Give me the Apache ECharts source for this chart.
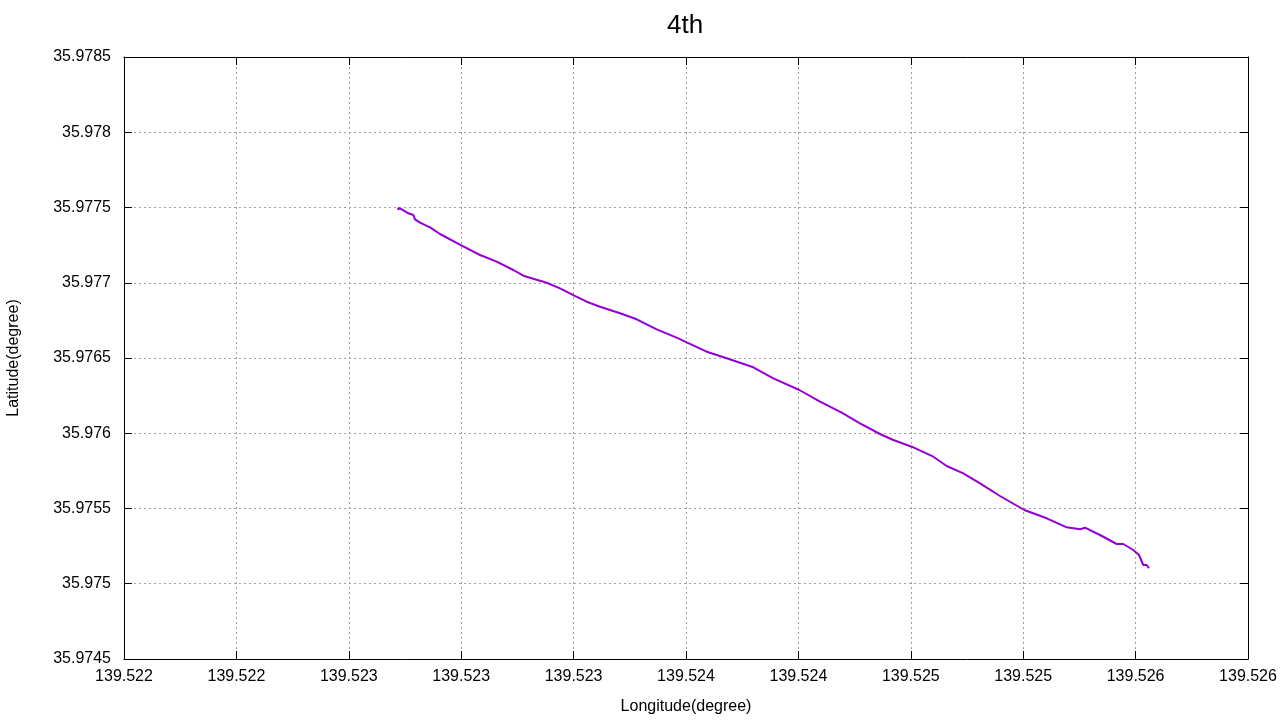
<!DOCTYPE html>
<html>
<head>
<meta charset="utf-8">
<script src="https://cdn.jsdelivr.net/npm/echarts@6/dist/echarts.min.js"></script>
<style>html,body{margin:0;padding:0;background:#fff}#c{width:1280px;height:720px}</style>
</head>
<body>
<div id="c"></div>
<script>
const lon = [139.5229762,139.5229762,139.5229883,139.5230117,139.5230295,139.5230356,139.5230534,139.5230890,139.5231245,139.5232018,139.5232669,139.5233263,139.5233854,139.5234210,139.5235043,139.5235516,139.5236025,139.5236466,139.5236940,139.5237651,139.5238245,139.5238957,139.5239726,139.5240025,139.5240737,139.5241448,139.5242395,139.5243107,139.5244032,139.5244769,139.5245541,139.5246192,139.5246904,139.5247377,139.5248032,139.5248801,139.5249277,139.5249868,139.5250463,139.5251174,139.5252039,139.5252836,139.5253548,139.5254021,139.5254199,139.5254733,139.5255327,139.5255562,139.5255918,139.5256120,139.5256273,139.5256394,139.5256477];
const lat = [35.9774834,35.9774967,35.9774880,35.9774614,35.9774502,35.9774216,35.9773990,35.9773684,35.9773239,35.9772462,35.9771844,35.9771399,35.9770847,35.9770468,35.9770003,35.9769631,35.9769140,35.9768741,35.9768409,35.9767970,35.9767571,35.9766907,35.9766309,35.9766043,35.9765419,35.9764980,35.9764382,35.9763651,35.9762874,35.9762096,35.9761366,35.9760661,35.9759950,35.9759551,35.9759106,35.9758442,35.9757824,35.9757339,35.9756674,35.9755831,35.9754900,35.9754349,35.9753751,35.9753618,35.9753724,35.9753239,35.9752641,35.9752641,35.9752243,35.9751910,35.9751246,35.9751246,35.9751027];
const xTickLabels = ['139.522','139.522','139.523','139.523','139.523','139.524','139.524','139.525','139.525','139.526','139.526'];
const yTickLabels = ['35.9745','35.975','35.9755','35.976','35.9765','35.977','35.9775','35.978','35.9785'];
const xMin = 139.5220, xMax = 139.5260, xStep = 0.0004;
const yMin = 35.9745, yMax = 35.9785, yStep = 0.0005;

const chart = echarts.init(document.getElementById('c'));
const font = 'Liberation Sans, Arial, sans-serif';
const splitLine = {show:true, lineStyle:{color:'#a0a0a0', type:[2,3], width:1}};
const tick = {show:true, inside:true, length:8, lineStyle:{color:'#000', width:1}};
const line = {show:true, onZero:false, lineStyle:{color:'#000', width:1}};
chart.setOption({
  animation:false,
  backgroundColor:'#fff',
  title:{text:'4th', left:662, top:8, textStyle:{fontFamily:font, fontSize:26, fontWeight:'normal', color:'#000'}},
  grid:{left:124, right:32, top:57, bottom:61, outerBoundsMode:'none', containLabel:false},
  xAxis:[{type:'value', min:xMin, max:xMax, interval:xStep, position:'bottom',
    name:'Longitude(degree)', nameLocation:'middle', nameGap:40,
    nameTextStyle:{fontFamily:font, fontSize:16, color:'#000'},
    axisLine:line, axisTick:tick,
    axisLabel:{fontFamily:font, fontSize:16, color:'#000', margin:10,
      formatter:v => xTickLabels[Math.round((v - xMin)/xStep)] ?? ''},
    splitLine:splitLine},
    {type:'value', min:xMin, max:xMax, interval:xStep, position:'top',
    axisLine:line, axisTick:tick, axisLabel:{show:false}, splitLine:{show:false}}],
  yAxis:[{type:'value', min:yMin, max:yMax, interval:yStep, position:'left',
    name:'Latitude(degree)', nameLocation:'middle', nameGap:102, nameRotate:90,
    nameTextStyle:{fontFamily:font, fontSize:16, color:'#000'},
    axisLine:line, axisTick:tick,
    axisLabel:{fontFamily:font, fontSize:16, color:'#000', margin:13,
      formatter:v => yTickLabels[Math.round((v - yMin)/yStep)] ?? ''},
    splitLine:splitLine},
    {type:'value', min:yMin, max:yMax, interval:yStep, position:'right',
    axisLine:line, axisTick:tick, axisLabel:{show:false}, splitLine:{show:false}}],
  series:[{type:'line', data:lon.map((x,i)=>[x, lat[i]]), showSymbol:false, symbol:'none',
    lineStyle:{color:'#9400d3', width:2}, itemStyle:{color:'#9400d3'}}]
});
</script>
</body>
</html>
